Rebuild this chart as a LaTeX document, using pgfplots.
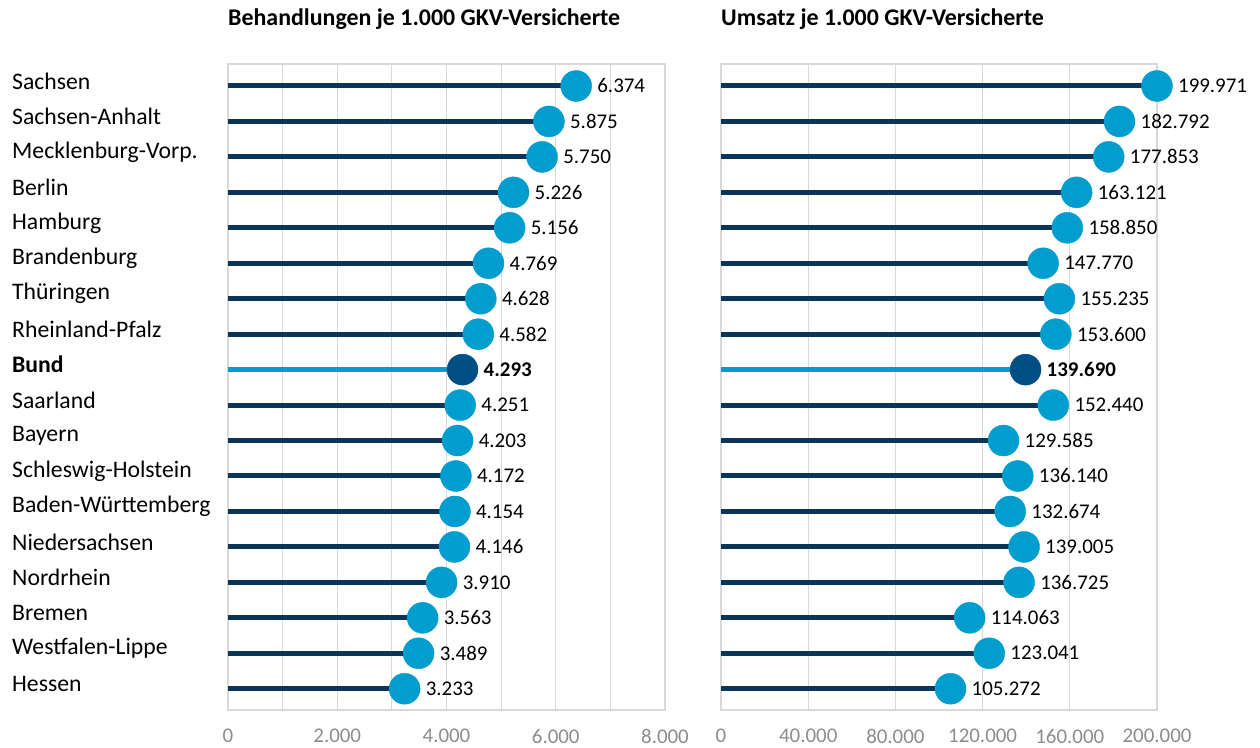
\documentclass[border=0pt]{standalone}
\usepackage{pgfplots}
\pgfplotsset{compat=1.18}
\usepackage{pgfplotstable}
\usepackage{fontspec}
\setmainfont{Carlito}
\definecolor{navy}{HTML}{0B3558}
\definecolor{lblue}{HTML}{009DCE}
\definecolor{dblue}{HTML}{004E85}
\definecolor{gridgray}{HTML}{D9D9D9}
\definecolor{tickgray}{HTML}{8C8C8C}

\pgfplotstableread{
y b u lb lu
0 6374 199971 6.374 199.971
1 5875 182792 5.875 182.792
2 5750 177853 5.750 177.853
3 5226 163121 5.226 163.121
4 5156 158850 5.156 158.850
5 4769 147770 4.769 147.770
6 4628 155235 4.628 155.235
7 4582 153600 4.582 153.600
9 4251 152440 4.251 152.440
10 4203 129585 4.203 129.585
11 4172 136140 4.172 136.140
12 4154 132674 4.154 132.674
13 4146 139005 4.146 139.005
14 3910 136725 3.910 136.725
15 3563 114063 3.563 114.063
16 3489 123041 3.489 123.041
17 3233 105272 3.233 105.272
}\datatable

\pgfplotstableread{
y b u lb lu
8 4293 139690 4.293 139.690
}\bundtable

\pgfplotsset{
  lolli/.style={
    scale only axis, height=646bp,
    y dir=reverse, ymin=-0.62, ymax=17.6, ytick={0,...,17},
    major tick length=0pt, minor tick length=0pt,
    axis line style={gridgray, line width=1.2bp},
    grid style={gridgray, line width=1.2bp},
    xmajorgrids, ymajorgrids=false, clip=false,
    scaled x ticks=false,
    tick label style={font=\fontsize{21}{25}\selectfont, text=tickgray},
    xticklabel style={inner sep=0pt, anchor=north, yshift=-19bp},
    title style={at={(0,1)}, anchor=base west, inner sep=0pt, yshift=32.5bp,
      font=\fontsize{24}{28}\selectfont\bfseries},
    /pgf/number format/fixed,
    /pgf/number format/1000 sep={.},
    /pgf/number format/assume math mode=true,
  },
  stem/.style={xcomb, line width=5bp},
  dot/.style={only marks, mark=*, mark size=15.5bp,
    point meta=explicit symbolic, nodes near coords,
    nodes near coords style={anchor=west, inner sep=0pt, xshift=21bp,
      text=black, font=\fontsize{21}{25}\selectfont}},
}

\begin{document}
\begin{tikzpicture}
\path[use as bounding box] (0,0) rectangle (1260bp,748bp);

\begin{axis}[lolli, at={(228bp,38bp)}, anchor=south west, width=437bp,
  xmin=0, xmax=8000, xtick={0,2000,...,8000},
  minor xtick={1000,3000,5000,7000}, xminorgrids,
  minor grid style={gridgray, line width=1.2bp},
  title={Behandlungen je 1.000 GKV-Versicherte},
  yticklabels={Sachsen, Sachsen-Anhalt, Mecklenburg-Vorp., Berlin, Hamburg,
    Brandenburg, Thüringen, Rheinland-Pfalz, \textbf{Bund}, Saarland, Bayern,
    Schleswig-Holstein, Baden-Württemberg, Niedersachsen, Nordrhein, Bremen,
    Westfalen-Lippe, Hessen},
  yticklabel style={anchor=west, inner sep=0pt, xshift=-216bp, yshift=5bp,
    text=black, font=\fontsize{23.8}{28}\selectfont},
]
\addplot[stem, navy] table[x=b, y=y]{\datatable};
\addplot[stem, lblue] table[x=b, y=y]{\bundtable};
\addplot[dot, lblue] table[x=b, y=y, meta=lb]{\datatable};
\addplot[dot, dblue, nodes near coords style={font=\fontsize{21}{25}\selectfont\bfseries}]
  table[x=b, y=y, meta=lb]{\bundtable};
\end{axis}

\begin{axis}[lolli, at={(721bp,38bp)}, anchor=south west, width=436bp,
  xmin=0, xmax=200000, xtick={0,40000,...,200000},
  title={Umsatz je 1.000 GKV-Versicherte},
  yticklabels={},
]
\addplot[stem, navy] table[x=u, y=y]{\datatable};
\addplot[stem, lblue] table[x=u, y=y]{\bundtable};
\addplot[dot, lblue] table[x=u, y=y, meta=lu]{\datatable};
\addplot[dot, dblue, nodes near coords style={font=\fontsize{21}{25}\selectfont\bfseries}]
  table[x=u, y=y, meta=lu]{\bundtable};
\end{axis}
\end{tikzpicture}
\end{document}
